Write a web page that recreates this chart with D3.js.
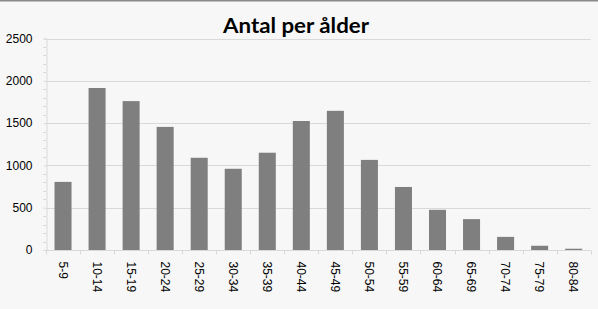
<!DOCTYPE html>
<html><head><meta charset="utf-8">
<script src="https://cdn.jsdelivr.net/npm/d3@7"></script>
<style>html,body{margin:0;padding:0;background:#f7f7f7;}svg{display:block;}</style>
</head><body>
<svg id="c" width="598" height="309"></svg>
<script>
const categories = ["5-9","10-14","15-19","20-24","25-29","30-34","35-39","40-44","45-49","50-54","55-59","60-64","65-69","70-74","75-79","80-84"];
const values = [805,1915,1760,1455,1090,960,1150,1525,1645,1065,745,475,365,155,50,15];
const yTicks = [0,500,1000,1500,2000,2500];
const title = "Antal per ålder";

const svg = d3.select("#c");
const W = 598, H = 309;
const m = {left:46, right:7.3, top:38.5, bottom:59};
const FONT = "'Liberation Sans',Arial,sans-serif";
svg.append("rect").attr("width",W).attr("height",H).attr("fill","#f7f7f7");
svg.append("rect").attr("width",W).attr("height",1.5).attr("fill","#8a8a8a");

const x = d3.scaleBand().domain(categories).range([m.left, W-m.right]).paddingInner(0.5).paddingOuter(0.25);
const y = d3.scaleLinear().domain([0,2500]).range([H-m.bottom, m.top]);

// gridlines
svg.append("g").selectAll("line").data(yTicks.slice(1)).join("line")
  .attr("x1",m.left).attr("x2",W-m.right)
  .attr("y1",d=>Math.round(y(d))+0.5).attr("y2",d=>Math.round(y(d))+0.5)
  .attr("stroke","#d9d9d9").attr("stroke-width",1);

// bars
svg.append("g").selectAll("rect").data(values).join("rect")
  .attr("x",(d,i)=>x(categories[i]))
  .attr("width",x.bandwidth())
  .attr("y",d=>y(d)).attr("height",d=>y(0)-y(d))
  .attr("fill","#7f7f7f");

// y axis
const yAxis = d3.axisLeft(y).tickValues(yTicks).tickFormat(d3.format("d")).tickSize(3).tickPadding(11);
const gy = svg.append("g").attr("transform",`translate(${m.left+0.5},0)`).call(yAxis)
  .attr("font-family",FONT).attr("font-size",12);
gy.select(".domain").attr("stroke","#d9d9d9");
gy.selectAll(".tick line").attr("stroke","#d9d9d9");
gy.selectAll("text").style("font-family",FONT).style("font-size","12px").attr("fill","#000");
// minor ticks
const minor = d3.range(0,2501,100).filter(v=>v%500!==0);
svg.append("g").selectAll("line").data(minor).join("line")
  .attr("x1",m.left-3).attr("x2",m.left)
  .attr("y1",d=>Math.round(y(d))+0.5).attr("y2",d=>Math.round(y(d))+0.5)
  .attr("stroke","#d9d9d9");

// x axis
const base = Math.round(y(0))+0.5;
svg.append("line").attr("x1",m.left).attr("x2",W-m.right).attr("y1",base).attr("y2",base).attr("stroke","#d9d9d9");
const bounds = d3.range(categories.length+1).map(i=>m.left + i*(W-m.left-m.right)/categories.length);
svg.append("g").selectAll("line").data(bounds).join("line")
  .attr("x1",d=>Math.round(d)+0.5).attr("x2",d=>Math.round(d)+0.5)
  .attr("y1",base).attr("y2",base+4).attr("stroke","#d9d9d9");
svg.append("g").selectAll("text").data(categories).join("text")
  .attr("transform",d=>`translate(${x(d)+x.bandwidth()/2-4.5},${base+11}) rotate(90)`)
  .style("font-family",FONT).style("font-size","12px")
  .attr("fill","#000").text(d=>d);

// title
svg.append("text").attr("x",296).attr("y",33).attr("text-anchor","middle")
  .style("font-family","Lato,'Open Sans',sans-serif").attr("font-weight","bold").style("font-size","21px")
  .attr("textLength",146).attr("lengthAdjust","spacingAndGlyphs")
  .attr("fill","#000").text(title);
</script>
</body></html>
